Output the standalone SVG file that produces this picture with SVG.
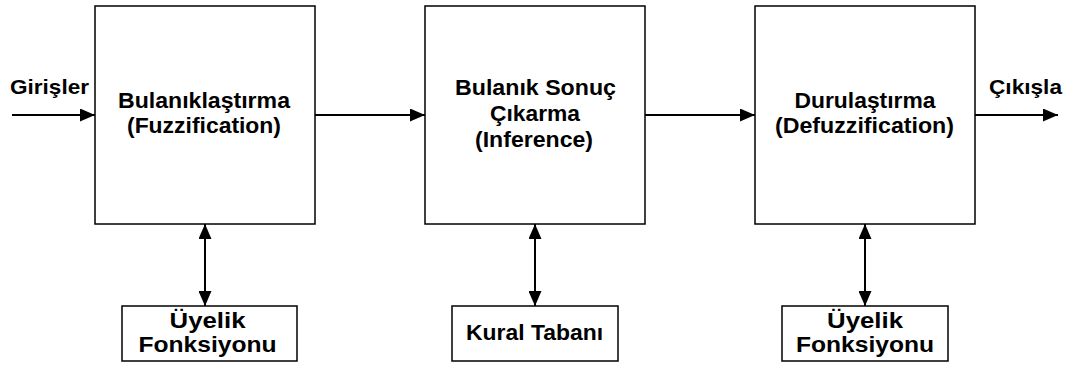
<svg xmlns="http://www.w3.org/2000/svg" width="1074" height="365" viewBox="0 0 1074 365">
<style>
.box{fill:#fff;stroke:#000;stroke-width:1.5}
.t{font-family:"Liberation Sans",Arial,sans-serif;font-weight:bold;font-size:22.5px;fill:#000;text-anchor:middle}
.s{font-size:22px}
.e{font-size:21px}
.ln{stroke:#000;stroke-width:2;fill:none}
</style>
<defs>
<marker id="ah" markerUnits="userSpaceOnUse" markerWidth="15" markerHeight="13" refX="15" refY="6.5" orient="auto-start-reverse">
<path d="M0,0 L15,6.5 L0,13 z" fill="#000"/>
</marker>
</defs>
<rect width="1074" height="365" fill="#fff"/>
<g id="connectors">
<line class="ln" x1="12" y1="115" x2="95" y2="115" marker-end="url(#ah)"/>
<line class="ln" x1="315" y1="115" x2="425" y2="115" marker-end="url(#ah)"/>
<line class="ln" x1="645" y1="115" x2="755" y2="115" marker-end="url(#ah)"/>
<line class="ln" x1="975" y1="115" x2="1058" y2="115" marker-end="url(#ah)"/>
<line class="ln" x1="205" y1="224" x2="205" y2="306" marker-start="url(#ah)" marker-end="url(#ah)"/>
<line class="ln" x1="535" y1="224" x2="535" y2="306" marker-start="url(#ah)" marker-end="url(#ah)"/>
<line class="ln" x1="865" y1="224" x2="865" y2="306" marker-start="url(#ah)" marker-end="url(#ah)"/>
</g>
<g id="label-girisler"><text class="t e" x="49.5" y="94" textLength="79" lengthAdjust="spacingAndGlyphs">Girişler</text></g>
<g id="label-cikisla"><text class="t e" x="1025.5" y="94" textLength="73" lengthAdjust="spacingAndGlyphs">Çıkışla</text></g>
<g id="fuzzification">
<rect class="box" x="95" y="6" width="220" height="218"/>
<text class="t" x="204" y="108" textLength="172" lengthAdjust="spacingAndGlyphs">Bulanıklaştırma</text>
<text class="t" x="204" y="133" textLength="154" lengthAdjust="spacingAndGlyphs">(Fuzzification)</text>
</g>
<g id="inference">
<rect class="box" x="425" y="6" width="220" height="218"/>
<text class="t" x="535.5" y="94.5" textLength="161" lengthAdjust="spacingAndGlyphs">Bulanık Sonuç</text>
<text class="t" x="535" y="120.5" textLength="90" lengthAdjust="spacingAndGlyphs">Çıkarma</text>
<text class="t" x="534" y="146.5" textLength="118" lengthAdjust="spacingAndGlyphs">(Inference)</text>
</g>
<g id="defuzzification">
<rect class="box" x="755" y="6" width="220" height="218"/>
<text class="t" x="865" y="108" textLength="141" lengthAdjust="spacingAndGlyphs">Durulaştırma</text>
<text class="t" x="864.5" y="133" textLength="179" lengthAdjust="spacingAndGlyphs">(Defuzzification)</text>
</g>
<g id="uyelik1">
<rect class="box" x="122" y="306" width="175" height="55"/>
<text class="t s" x="207.5" y="328" textLength="76" lengthAdjust="spacingAndGlyphs">Üyelik</text>
<text class="t s" x="207.5" y="352" textLength="138" lengthAdjust="spacingAndGlyphs">Fonksiyonu</text>
</g>
<g id="kural-tabani">
<rect class="box" x="452" y="306" width="166" height="55"/>
<text class="t s" x="534.5" y="340" textLength="137" lengthAdjust="spacingAndGlyphs">Kural Tabanı</text>
</g>
<g id="uyelik2">
<rect class="box" x="782" y="306" width="166" height="55"/>
<text class="t s" x="865" y="328" textLength="76" lengthAdjust="spacingAndGlyphs">Üyelik</text>
<text class="t s" x="865" y="352" textLength="138" lengthAdjust="spacingAndGlyphs">Fonksiyonu</text>
</g>
</svg>
